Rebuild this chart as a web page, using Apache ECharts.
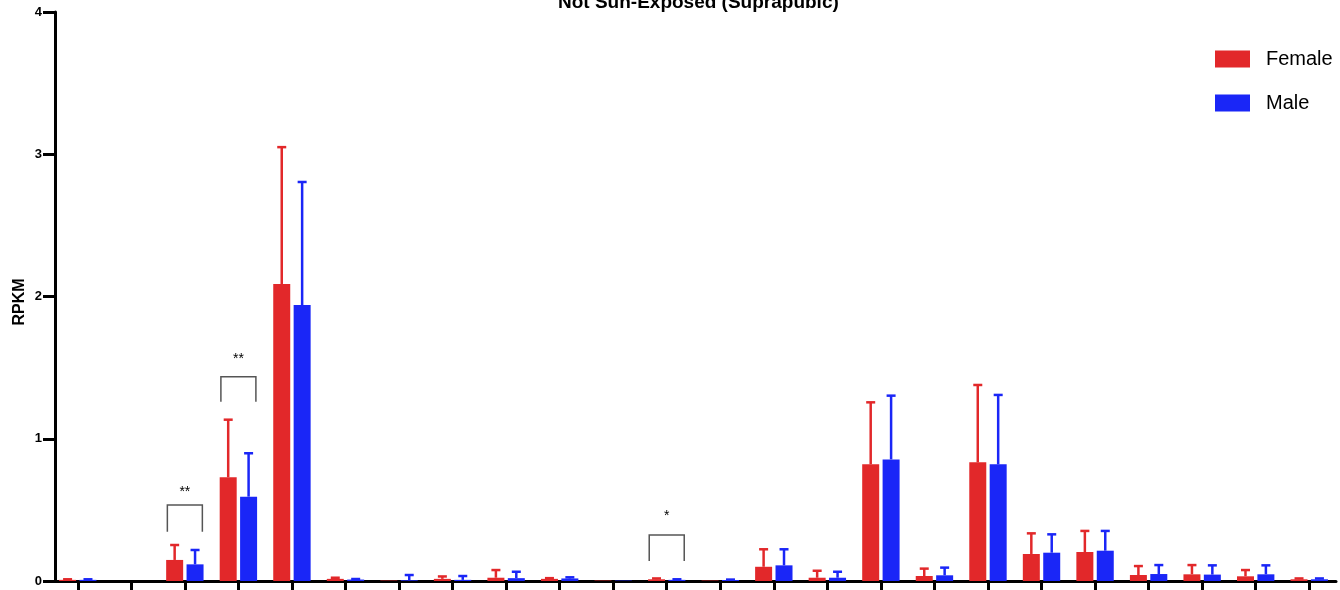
<!DOCTYPE html>
<html>
<head>
<meta charset="utf-8">
<script src="https://cdn.jsdelivr.net/npm/echarts@6/dist/echarts.min.js"></script>
<style>
html,body{margin:0;padding:0;background:#fff;}
#chart{width:1340px;height:590px;}
</style>
</head>
<body>
<div id="chart"></div>
<script>
// ---- data ----
const titleText = 'Not Sun-Exposed (Suprapubic)';
const categories = ['G1','G2','G3','G4','G5','G6','G7','G8','G9','G10','G11','G12',
                    'G13','G14','G15','G16','G17','G18','G19','G20','G21','G22','G23','G24'];
const femaleMean = [0.008, 0, 0.148, 0.729, 2.088, 0.015, 0.003, 0.015, 0.023, 0.015, 0.003, 0.012,
                    0.003, 0.100, 0.023, 0.820, 0.035, 0.834, 0.190, 0.204, 0.042, 0.047, 0.033, 0.012];
const femaleSD   = [0.004, 0, 0.105, 0.405, 0.962, 0.008, 0, 0.017, 0.054, 0.005, 0, 0.006,
                    0, 0.123, 0.049, 0.436, 0.052, 0.544, 0.145, 0.148, 0.063, 0.065, 0.044, 0.006];
const maleMean   = [0.008, 0, 0.117, 0.593, 1.940, 0.010, 0.005, 0.008, 0.020, 0.018, 0.003, 0.008,
                    0.007, 0.110, 0.023, 0.855, 0.040, 0.820, 0.199, 0.213, 0.049, 0.045, 0.047, 0.012];
const maleSD     = [0.004, 0, 0.101, 0.305, 0.865, 0.004, 0.037, 0.027, 0.045, 0.008, 0, 0.004,
                    0.003, 0.113, 0.042, 0.448, 0.054, 0.488, 0.129, 0.139, 0.063, 0.065, 0.063, 0.006];
const yTicks = [0, 1, 2, 3, 4];
// significance brackets
const sigIndex  = [2, 3, 11];
const sigBottom = [0.347, 1.260, 0.141];
const sigTop    = [0.534, 1.436, 0.323];
const sigLabelY = [0.626, 1.560, 0.459];
const sigLabel  = ['**', '**', '*'];

// ---- styles ----
const RED = '#e2282a';
const BLUE = '#1a26f7';
const FONT = 'Liberation Sans, Arial, Helvetica, sans-serif';
const BAR_W = 17;
const BAR_GAP = 0.2;
const OFF = (BAR_W + BAR_W * BAR_GAP) / 2;

function errData(mean, sd) {
  return mean.map((m, i) => [i, m, sd[i]]);
}
function errRender(offset, color) {
  return function (params, api) {
    const i = api.value(0), m = api.value(1), s = api.value(2);
    const p0 = api.coord([i, m]);
    const p1 = api.coord([i, m + s]);
    const cx = p0[0] + offset;
    if (s <= 0) return null;
    return {
      type: 'group',
      children: [
        { type: 'line', shape: { x1: cx, y1: p0[1], x2: cx, y2: p1[1] },
          style: { stroke: color, lineWidth: 2.5 } },
        { type: 'line', shape: { x1: cx - 4.5, y1: p1[1], x2: cx + 4.5, y2: p1[1] },
          style: { stroke: color, lineWidth: 2.5 } }
      ]
    };
  };
}

const sigData = sigIndex.map((c, k) => [c, sigBottom[k], sigTop[k], sigLabelY[k], k]);

const chart = echarts.init(document.getElementById('chart'), null, { renderer: 'canvas' });
chart.setOption({
  animation: false,
  backgroundColor: '#fff',
  title: {
    text: titleText,
    left: 553, top: -12,
    textStyle: { fontFamily: FONT, fontSize: 19, fontWeight: 'bold', color: '#000' }
  },
  legend: {
    orient: 'vertical',
    left: 1210, top: 44,
    padding: 5,
    itemWidth: 35, itemHeight: 17, itemGap: 24,
    icon: 'rect',
    textStyle: { fontFamily: FONT, fontSize: 20, color: '#000', padding: [0, 0, 0, 11] },
    data: ['Female', 'Male']
  },
  grid: { left: 51, right: 4, top: 12, bottom: 9, containLabel: false, outerBoundsMode: 'none' },
  xAxis: {
    type: 'category',
    data: categories,
    axisLine: { lineStyle: { color: '#000', width: 3 } },
    axisTick: { show: true, interval: 0, alignWithLabel: true, length: 10,
                lineStyle: { color: '#000', width: 3 } },
    axisLabel: { show: true, interval: 0, color: 'rgba(0,0,0,0)', fontSize: 1 },
    splitLine: { show: false }
  },
  yAxis: {
    type: 'value',
    min: yTicks[0], max: yTicks[yTicks.length - 1], interval: 1,
    offset: -4,
    name: 'RPKM',
    nameLocation: 'middle',
    nameGap: 27,
    nameMoveOverlap: false,
    nameTextStyle: { fontFamily: FONT, fontSize: 16, fontWeight: 'bold', color: '#000',
                     padding: [0, 11, 0, 0] },
    axisLine: { show: true, lineStyle: { color: '#000', width: 3 } },
    axisTick: { show: true, length: 12, lineStyle: { color: '#000', width: 3 } },
    axisLabel: { fontFamily: FONT, fontSize: 13, fontWeight: 'bold', color: '#000', margin: 13 },
    splitLine: { show: false }
  },
  series: [
    { name: 'Female', type: 'bar', data: femaleMean, barWidth: BAR_W, barGap: (BAR_GAP * 100) + '%',
      itemStyle: { color: RED }, z: 3 },
    { name: 'Male', type: 'bar', data: maleMean, barWidth: BAR_W, barGap: (BAR_GAP * 100) + '%',
      itemStyle: { color: BLUE }, z: 3 },
    { name: 'FemaleErr', type: 'custom', data: errData(femaleMean, femaleSD),
      renderItem: errRender(-OFF, RED), z: 2, silent: true },
    { name: 'MaleErr', type: 'custom', data: errData(maleMean, maleSD),
      renderItem: errRender(OFF, BLUE), z: 2, silent: true },
    { name: 'Sig', type: 'custom', data: sigData, z: 4, silent: true,
      renderItem: function (params, api) {
        const c = api.value(0);
        const pb = api.coord([c, api.value(1)]);
        const pt = api.coord([c, api.value(2)]);
        const pl = api.coord([c, api.value(3)]);
        const l = pb[0] - 17.5, r = pb[0] + 17.5;
        return {
          type: 'group',
          children: [
            { type: 'polyline', shape: { points: [[l, pb[1]], [l, pt[1]], [r, pt[1]], [r, pb[1]]] },
              style: { stroke: '#555', lineWidth: 1.5, fill: null } },
            { type: 'text', style: { text: sigLabel[api.value(4)], x: pb[0], y: pl[1],
              align: 'center', verticalAlign: 'middle', fontSize: 14, fontFamily: FONT, fill: '#000' } }
          ]
        };
      }
    }
  ]
});
</script>
</body>
</html>
